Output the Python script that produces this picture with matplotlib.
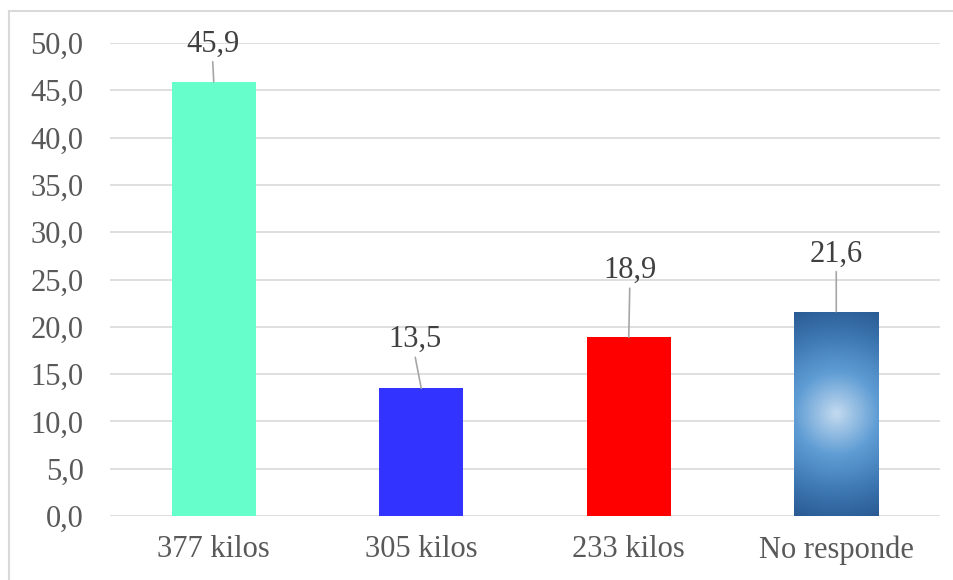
import matplotlib.pyplot as plt
import numpy as np
from matplotlib.colors import LinearSegmentedColormap
from matplotlib.lines import Line2D
from matplotlib.ticker import FuncFormatter, MultipleLocator

categories = ["377 kilos", "305 kilos", "233 kilos", "No responde"]
values = [45.9, 13.5, 18.9, 21.6]
colors = ["#66FFCC", "#3333FF", "#FF0000", None]  # last bar gets a radial gradient

# label placement (pixels from bar top: dx, dy of the label baseline)
label_offsets = [(-1, 30), (-6, 41), (1, 59), (0, 50)]

plt.rcParams['font.family'] = ['Liberation Serif', 'DejaVu Serif']

W, H = 954, 580
fig = plt.figure(figsize=(W / 100, H / 100), dpi=100)
ax = fig.add_axes([110 / W, 64 / H, 830 / W, 473 / H])

x = np.arange(len(categories))
bar_w = 0.405
bars = ax.bar(x, values, width=bar_w, zorder=3)
for b, c in zip(bars, colors):
    if c is not None:
        b.set_facecolor(c)
    else:
        b.set_facecolor("none")

ax.set_xlim(-0.5, len(categories) - 0.5)
ax.set_ylim(0, 50)
ax.yaxis.set_major_locator(MultipleLocator(5))
ax.yaxis.set_major_formatter(FuncFormatter(lambda v, p: f"{v:.1f}".replace(".", ",")))
ax.set_xticks(x)
ax.set_xticklabels(categories)
ax.tick_params(axis="y", length=0, pad=19, labelsize=22, labelcolor="#595959")
ax.tick_params(axis="x", length=0, pad=14, labelsize=22, labelcolor="#595959")
for s in ax.spines.values():
    s.set_visible(False)
ax.grid(axis="y", color="#d9d9d9", lw=1.2, zorder=0)
ax.set_axisbelow(True)

# radial gradient fill for the "No responde" bar
gb = bars[3]
x0, x1 = gb.get_x(), gb.get_x() + gb.get_width()
y0, y1 = 0, gb.get_height()
px_w = gb.get_width() / 4 * 830
px_h = gb.get_height() / 50 * 473
gx, gy = np.meshgrid(np.linspace(-1, 1, 200), np.linspace(-1, 1, 400))
dist = np.hypot(gx * px_w / 2, gy * px_h / 2) / np.hypot(px_w / 2, px_h / 2)
cmap = LinearSegmentedColormap.from_list(
    "radial", [(0, "#c3daef"), (0.38, "#5e9cd4"), (0.75, "#3a73ae"), (1, "#2a5a92")])
img = ax.imshow(dist, cmap=cmap, vmin=0, vmax=1, extent=[x0, x1, y0, y1],
                origin="lower", aspect="auto", zorder=3, interpolation="bilinear")
img.set_clip_path(gb)

# data labels with leader lines
for xi, v, (dx, dy) in zip(x, values, label_offsets):
    ax.annotate(f"{v:.1f}".replace(".", ","), xy=(xi, v), xytext=(dx, dy),
                textcoords="offset pixels", ha="center", va="baseline",
                fontsize=22, color="#404040", zorder=5)
    ax.annotate("", xy=(xi, v), xytext=(dx, dy - 10), textcoords="offset pixels",
                arrowprops=dict(arrowstyle="-", color="#a6a6a6", lw=1.2,
                                shrinkA=0, shrinkB=0), zorder=4)

# chart area border (top and left edges visible)
fig.add_artist(Line2D([9 / W, 1], [1 - 11 / H, 1 - 11 / H], color="#d9d9d9", lw=1.5))
fig.add_artist(Line2D([9 / W, 9 / W], [0, 1 - 11 / H], color="#d9d9d9", lw=1.5))

fig.savefig("out.png", dpi=100)
